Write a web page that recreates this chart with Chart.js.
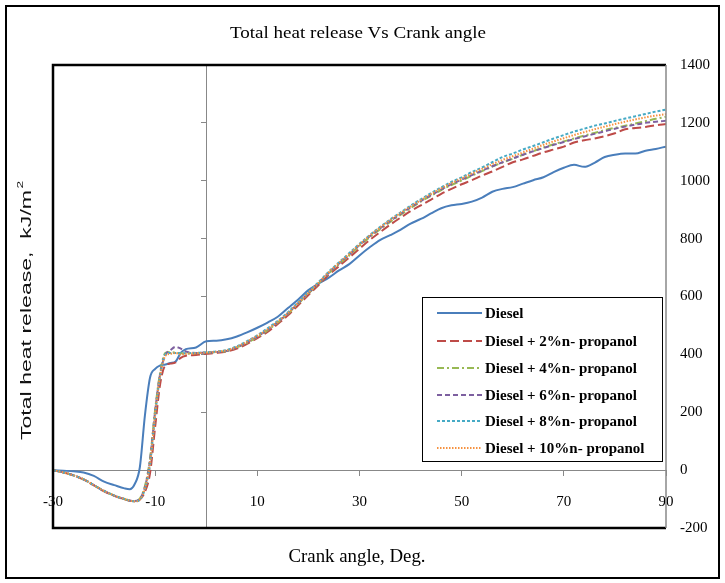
<!DOCTYPE html>
<html><head><meta charset="utf-8">
<script src="https://cdn.jsdelivr.net/npm/chart.js@4.4.1/dist/chart.umd.min.js"></script>
<style>html,body{margin:0;padding:0;background:#fff;}#wrap{width:725px;height:583px;}</style>
</head><body><div id="wrap"><canvas id="c" width="725" height="583"></canvas></div>
<script>
// ---- data ----
const crankAngles = [-30,-28,-26,-24,-22,-20,-18,-16,-15,-14,-13,-12,-11,-10,-9,-8,-7,-6,-5,-4,-2,0,2,4,6,8,10,12,14,16,18,20,22,24,26,28,30,32,34,36,38,40,42,44,46,48,50,52,54,56,58,60,62,64,66,68,70,72,74,76,78,80,82,84,86,88,90];
const diesel = [0,-2,-4,-8,-20,-40,-52, -63,-66,-48,10,190,320,350,362,365,370,375,405,418, 424,445,447,452,462,476,492,510,530,560, 590,622,645,665,690,712,742,770,795,812, 830,852,868,887,905,915,920,928,942,962, 972,978,990,1002,1012,1030,1045,1055,1048,1062, 1082,1090,1094,1094,1104,1110,1118];
const propanol2 = [0,-8,-18,-33,-53,-73,-89, -101,-106,-108,-102,-75,-10,150,300,362,368,372,388,395, 398,402,405,410,420,436,456,478,505,535, 570,605,640,675,705,735,765,795,822,848, 872,895,915,935,955,972,988,1002,1018,1032, 1048,1064,1074,1086,1098,1108,1118,1132,1140,1146, 1154,1164,1178,1182,1186,1192,1196];
const propanol4 = [0,-8,-18,-32,-52,-72,-88, -100,-105,-107,-98,-55,40,210,340,405,408,406,404,403, 404,406,408,412,424,440,460,483,510,540, 575,610,645,680,712,742,775,805,832,858, 882,905,928,948,968,985,1001,1018,1033,1049, 1063,1076,1090,1102,1115,1126,1136,1146,1156,1165, 1175,1183,1190,1198,1206,1214,1221];
const propanol6 = [0,-8,-18,-32,-52,-72,-88, -100,-105,-107,-99,-58,35,205,335,398,415,426,420,410, 405,406,408,412,425,442,462,485,512,542, 577,612,647,682,714,745,778,808,835,861, 885,908,930,950,970,988,1004,1020,1035,1050, 1064,1077,1090,1102,1113,1124,1134,1144,1153,1162, 1171,1180,1187,1194,1200,1204,1207];
const propanol8 = [0,-8,-18,-32,-52,-72,-88, -100,-105,-108,-102,-65,20,190,330,400,405,405,404,404, 405,407,410,415,428,446,466,490,516,546, 580,615,650,686,718,750,782,812,840,866, 890,914,936,957,977,996,1012,1030,1046,1064, 1082,1094,1108,1120,1133,1146,1158,1170,1180,1190, 1198,1207,1215,1223,1231,1239,1246];
const propanol10 = [0,-8,-18,-32,-52,-72,-88, -100,-105,-108,-101,-62,25,195,330,395,402,405,400,402, 404,406,409,414,426,444,464,487,513,543, 578,613,648,684,716,747,780,810,838,864, 888,911,933,954,974,992,1008,1025,1041,1057, 1072,1085,1098,1111,1124,1136,1147,1158,1168,1178, 1187,1196,1204,1212,1219,1225,1230];
const seriesNames = ['Diesel','Diesel + 2%n- propanol','Diesel + 4%n- propanol','Diesel + 6%n- propanol','Diesel + 8%n- propanol','Diesel + 10%n- propanol'];
const xTickValues = [-30,-10,10,30,50,70,90];
const yTickValues = [-200,0,200,400,600,800,1000,1200,1400];
const chartTitle = 'Total heat release Vs Crank angle';
const xTitle = 'Crank angle, Deg.';
const yTitle = 'Total heat release,  kJ/m';

// ---- styles ----
const seriesValues = [diesel, propanol2, propanol4, propanol6, propanol8, propanol10];
const colors = ['#4A7EBB','#BE4B48','#98B954','#7D60A0','#46AAC5','#F69240'];
const dashes = [[], [9,4], [7,3,2,3], [5,3], [3,2], [1.5,1.5]];

const datasets = seriesValues.map((vals, i) => ({
  label: seriesNames[i],
  data: vals.map((v, k) => ({x: crankAngles[k], y: v})),
  borderColor: colors[i],
  borderDash: dashes[i],
  borderWidth: 2,
  pointRadius: 0,
  fill: false,
  cubicInterpolationMode: 'monotone',
  order: 6 - i,
  yAxisID: 'y'
}));

function fitText(c, text, cx, cy, w, font, rot) {
  c.save();
  c.font = font;
  const m = c.measureText(text).width;
  c.translate(cx, cy);
  if (rot) c.rotate(rot);
  c.scale(w / m, 1);
  c.textAlign = 'center';
  c.textBaseline = 'middle';
  c.fillStyle = '#000';
  c.fillText(text, 0, 0);
  c.restore();
}

const decor = {
  id: 'decor',
  beforeDraw(chart) {
    const c = chart.ctx;
    c.save(); c.fillStyle = '#fff'; c.fillRect(0, 0, chart.width, chart.height); c.restore();
  },
  afterDraw(chart) {
    const c = chart.ctx, a = chart.chartArea;
    c.save();
    // outer frame
    c.strokeStyle = '#000'; c.lineWidth = 2;
    c.strokeRect(6, 6, 713, 572);
    // plot frame
    c.lineWidth = 2.5;
    c.beginPath(); c.moveTo(a.right, a.top); c.lineTo(a.left, a.top); c.lineTo(a.left, a.bottom); c.lineTo(a.right, a.bottom); c.stroke();
    c.strokeStyle = '#888'; c.lineWidth = 1.5;
    c.beginPath(); c.moveTo(a.right, a.top); c.lineTo(a.right, a.bottom); c.stroke();
    // titles
    fitText(c, chartTitle, 358, 34, 256, '17px "Liberation Serif"', 0);
    fitText(c, xTitle, 357, 557, 137, '18px "Liberation Serif"', 0);
    // y title with superscript
    c.save();
    c.translate(27, 310);
    c.rotate(-Math.PI / 2);
    c.font = '15px "Liberation Sans"';
    const m = c.measureText(yTitle).width;
    const sx = 250 / m;
    c.scale(sx, 1);
    c.fillStyle = '#111'; c.textBaseline = 'middle'; c.textAlign = 'left';
    c.fillText(yTitle, -130 / sx, 0);
    c.font = '9px "Liberation Sans"';
    c.fillText('2', -130 / sx + m + 1, -6);
    c.restore();
    // legend
    const L = {x: 422, y: 297, w: 240, h: 164};
    c.fillStyle = '#fff'; c.fillRect(L.x, L.y, L.w, L.h);
    c.strokeStyle = '#000'; c.lineWidth = 1; c.strokeRect(L.x + 0.5, L.y + 0.5, L.w, L.h);
    const rows = [313, 341, 368, 395, 421, 448];
    chart.data.datasets.forEach((ds, i) => {
      const y = rows[i];
      c.strokeStyle = ds.borderColor; c.lineWidth = 2; c.setLineDash(ds.borderDash);
      c.beginPath(); c.moveTo(437, y); c.lineTo(482, y); c.stroke();
      c.setLineDash([]);
      c.font = 'bold 15px "Liberation Serif"';
      c.fillStyle = '#000'; c.textAlign = 'left'; c.textBaseline = 'middle';
      c.fillText(ds.label, 485, y + 1);
    });
    c.restore();
  }
};

new Chart(document.getElementById('c'), {
  type: 'line',
  data: {datasets},
  options: {
    responsive: false,
    animation: false,
    devicePixelRatio: 1,
    layout: {padding: {left: 53, top: 65, right: 0, bottom: 55}},
    plugins: {legend: {display: false}, tooltip: {enabled: false}, title: {display: false}},
    scales: {
      x: {
        type: 'linear', min: -30, max: 90, position: {y: 0},
        afterBuildTicks: s => { s.ticks = xTickValues.map(v => ({value: v})); },
        grid: {display: true, drawOnChartArea: false, drawTicks: true, tickLength: 5, color: '#888'},
        border: {display: true, color: '#888', width: 1},
        ticks: {font: {family: 'Liberation Serif', size: 15}, color: '#000', padding: 18, maxRotation: 0, autoSkip: false,
                callback: v => String(v)}
      },
      y: {
        type: 'linear', min: -200, max: 1400, position: 'right',
        afterBuildTicks: s => { s.ticks = yTickValues.map(v => ({value: v})); },
        afterFit: s => { s.width = 59; },
        grid: {display: false, drawTicks: false},
        border: {display: false},
        ticks: {font: {family: 'Liberation Serif', size: 15}, color: '#000', padding: 14, callback: v => String(v)}
      },
      yZero: {
        axis: 'y', type: 'linear', min: -200, max: 1400, position: {x: 0},
        afterBuildTicks: s => { s.ticks = yTickValues.map(v => ({value: v})); },
        grid: {display: true, drawOnChartArea: false, drawTicks: true, tickLength: 5, color: '#888'},
        border: {display: true, color: '#888', width: 1},
        ticks: {display: false}
      }
    }
  },
  plugins: [decor]
});
</script></body></html>
